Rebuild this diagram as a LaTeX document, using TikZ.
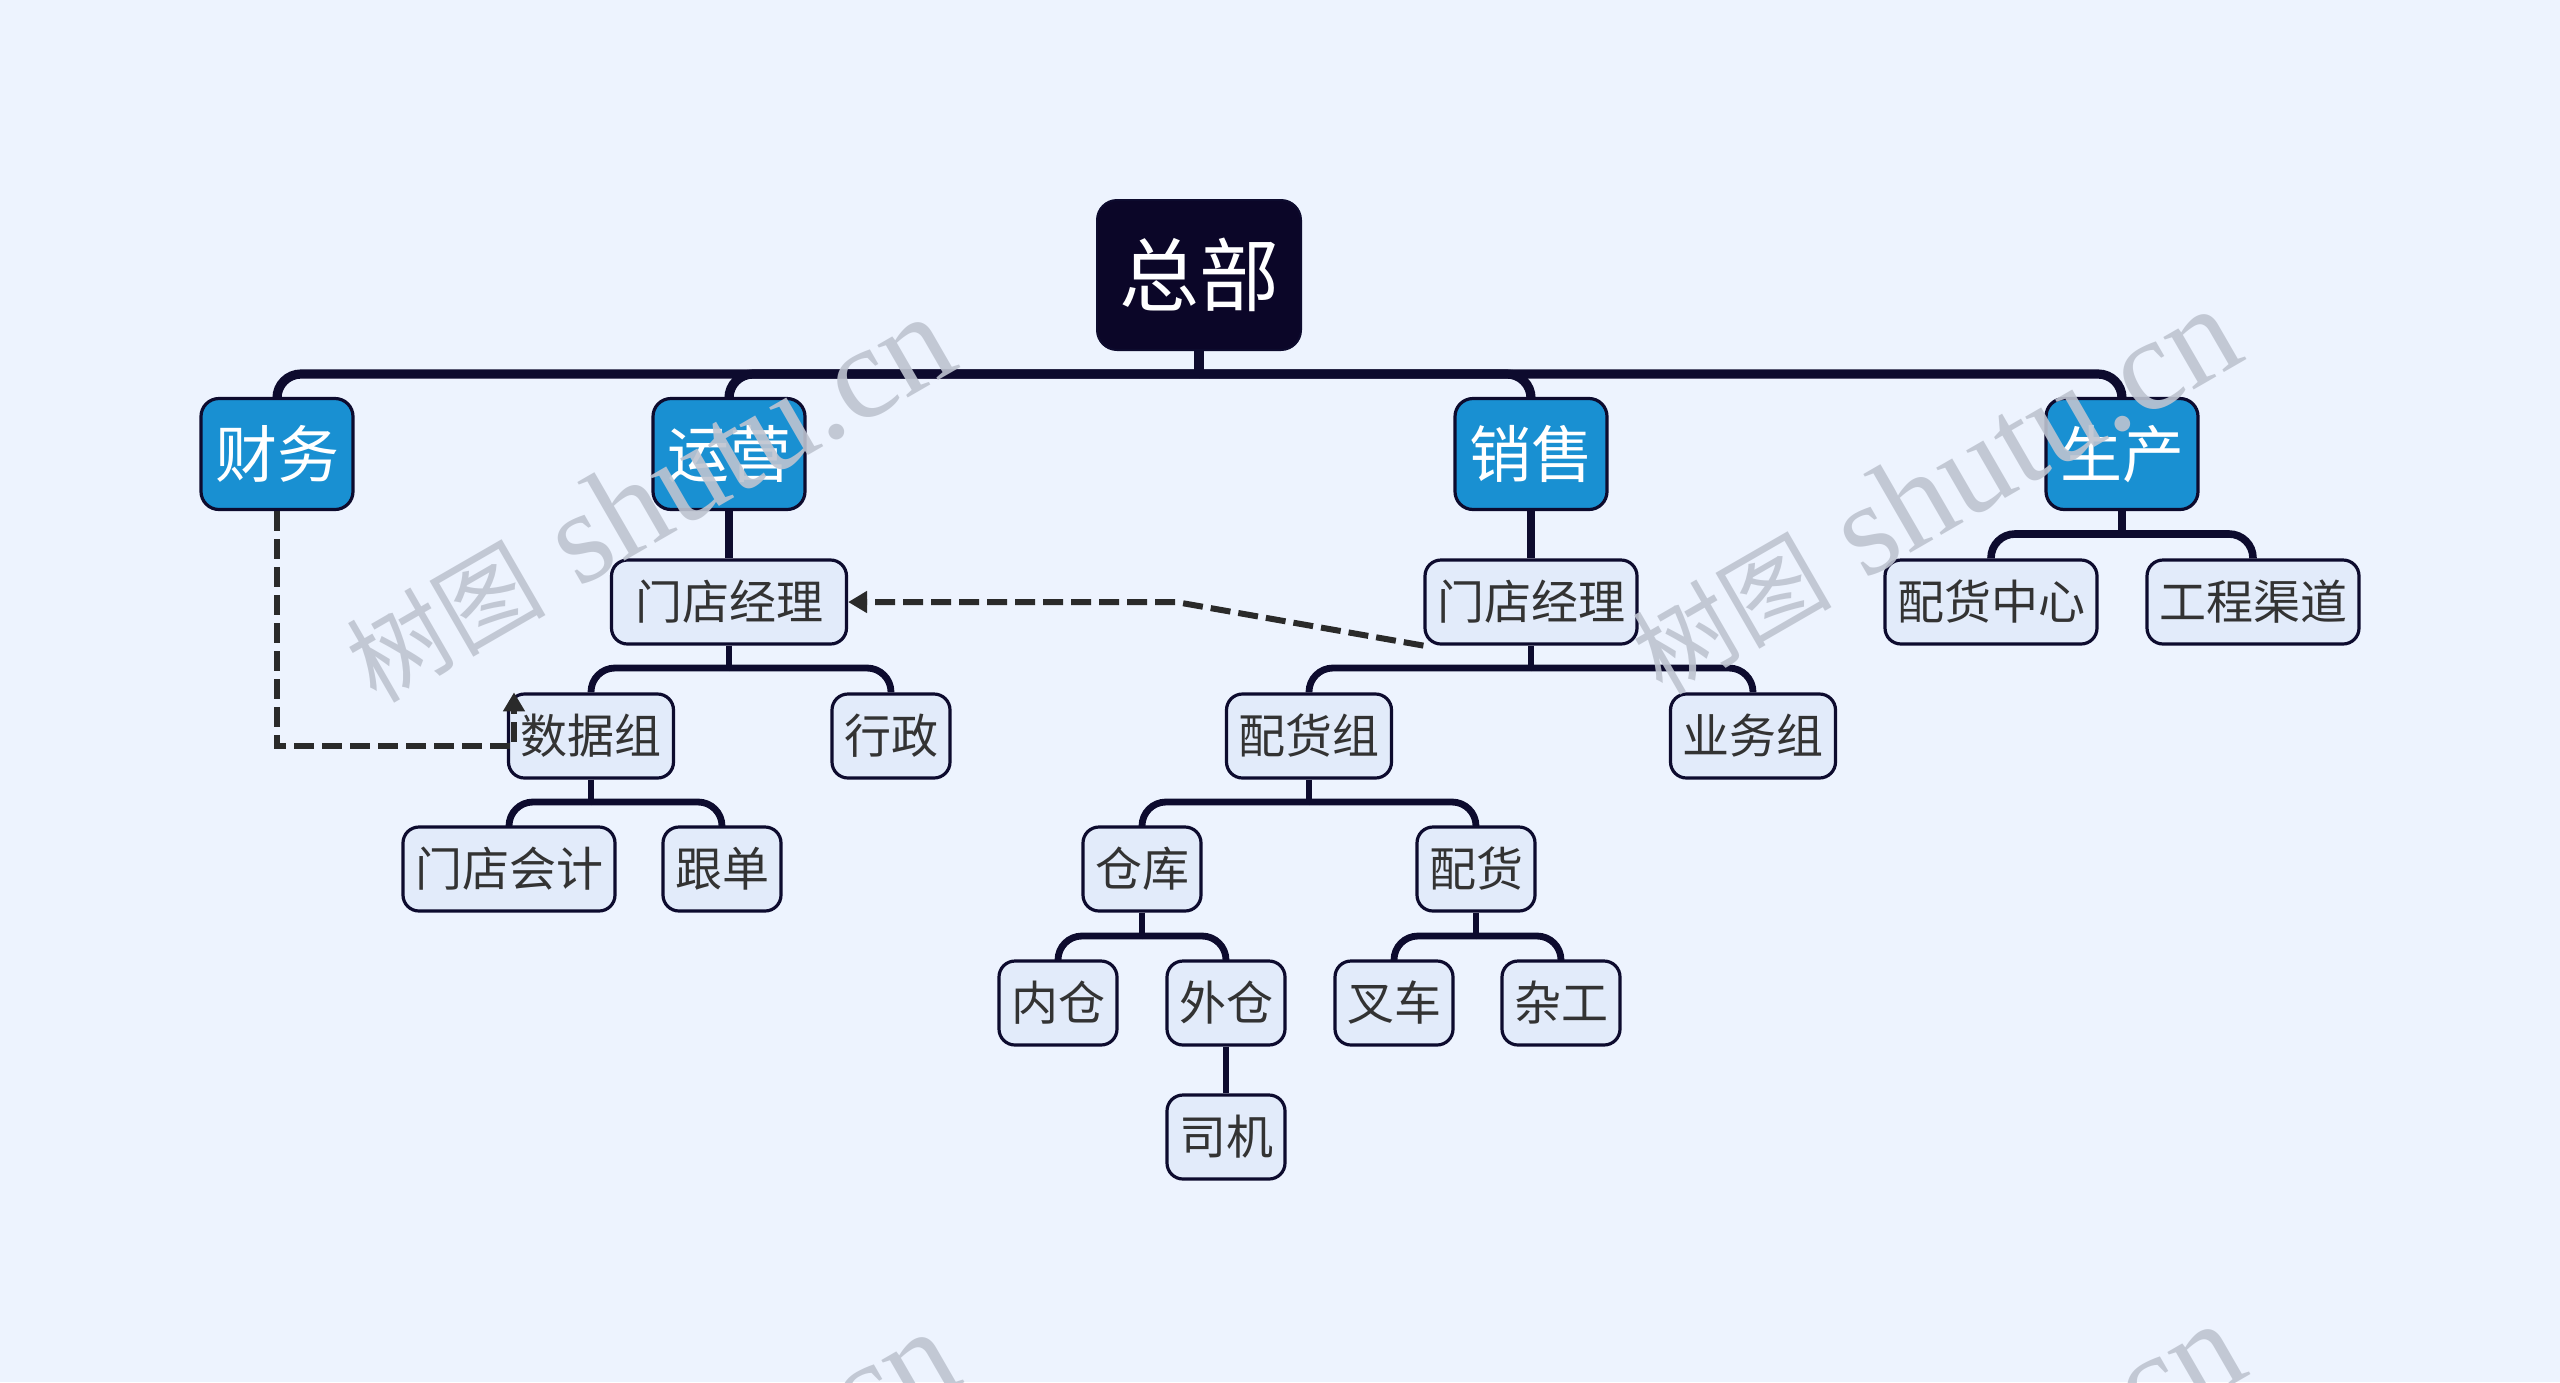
\documentclass[tikz,border=0pt]{standalone}
\usepackage{fontspec}
\newfontfamily\cjk{Noto Sans CJK SC}
\newfontfamily\wmserif{Liberation Serif}
\usetikzlibrary{arrows.meta}
\definecolor{bgc}{HTML}{EDF3FE}
\definecolor{navy}{HTML}{0D0B2E}
\definecolor{rootc}{HTML}{0B0628}
\definecolor{bluec}{HTML}{1990D2}
\definecolor{lightn}{HTML}{E2EBFA}
\definecolor{textc}{HTML}{333333}
\definecolor{dashc}{HTML}{2A2A2A}
\definecolor{wmc}{HTML}{BEC4D0}
\begin{document}
\begin{tikzpicture}[x=0.5pt,y=-0.5pt,
  rootbox/.style={rounded corners=10pt, fill=rootc, draw=navy, line width=1pt, text=white,
    font=\cjk\fontsize{40}{40}\selectfont, minimum width=102pt, minimum height=75pt, inner sep=0pt},
  lone/.style={rounded corners=9pt, fill=bluec, draw=navy, line width=1.6pt, text=white,
    font=\cjk\fontsize{31}{31}\selectfont, minimum width=76pt, minimum height=55.5pt, inner sep=0pt},
  ltwo/.style={rounded corners=8pt, fill=lightn, draw=navy, line width=1.6pt, text=textc,
    font=\cjk\fontsize{23.5}{23.5}\selectfont, minimum height=42pt, inner xsep=6pt, inner ysep=0pt},
  busa/.style={draw=navy, line width=4.6pt},
  busb/.style={draw=navy, line width=3.8pt},
  busc/.style={draw=navy, line width=3.4pt},
  rc/.style={rounded corners=12pt},
  rel/.style={draw=dashc, line width=3pt, dash pattern=on 10pt off 4pt,
    -{Triangle[length=9.5pt,width=10.5pt]}},
  wm/.style={text=wmc, opacity=0.9, font=\wmserif\fontsize{66}{66}\selectfont, inner sep=0pt,
    rotate=30, anchor=base west}
]
\fill[bgc] (0,0) rectangle (2560,1382);
\clip (0,0) rectangle (2560,1382);

% nodes
\node[rootbox] (root) at (1199,275) {总部};
\node[lone] (caiwu) at (277,454) {财务};
\node[lone] (yunying) at (729,454) {运营};
\node[lone] (xiaoshou) at (1531,454) {销售};
\node[lone] (shengchan) at (2122,454) {生产};

\node[ltwo, minimum width=117.5pt] (md1) at (729,602) {门店经理};
\node[ltwo] (md2) at (1531,602) {门店经理};
\node[ltwo] (phzx) at (1991,602) {配货中心};
\node[ltwo] (gcqd) at (2253,602) {工程渠道};

\node[ltwo] (sjz) at (591,736) {数据组};
\node[ltwo] (xz) at (891,736) {行政};
\node[ltwo] (phz) at (1309,736) {配货组};
\node[ltwo] (ywz) at (1753,736) {业务组};

\node[ltwo] (mdkj) at (509,869) {门店会计};
\node[ltwo] (gd) at (722,869) {跟单};
\node[ltwo] (ck) at (1142,869) {仓库};
\node[ltwo] (ph) at (1476,869) {配货};

\node[ltwo] (nc) at (1058,1003) {内仓};
\node[ltwo] (wc) at (1226,1003) {外仓};
\node[ltwo] (cc) at (1394,1003) {叉车};
\node[ltwo] (zg) at (1561,1003) {杂工};

\node[ltwo] (sj) at (1226,1137) {司机};

% bus points
\coordinate (b0) at (1199,374);
\coordinate (b1) at (2122,534);
\coordinate (b2) at (729,668);
\coordinate (b3) at (1531,668);
\coordinate (b4) at (591,802);
\coordinate (b5) at (1309,802);
\coordinate (b6) at (1142,936);
\coordinate (b7) at (1476,936);

% connectors
\draw[busa] (root.south) -- (b0);
\foreach \c in {caiwu,yunying,xiaoshou,shengchan}
  \draw[busa,rc] (b0) -| (\c.north);

\draw[busb] (yunying.south) -- (md1.north);
\draw[busb] (xiaoshou.south) -- (md2.north);
\draw[busb] (shengchan.south) -- (b1);
\draw[busb,rc] (b1) -| (phzx.north);
\draw[busb,rc] (b1) -| (gcqd.north);

\draw[busc] (md1.south) -- (b2);
\draw[busc,rc] (b2) -| (sjz.north);
\draw[busc,rc] (b2) -| (xz.north);
\draw[busc] (md2.south) -- (b3);
\draw[busc,rc] (b3) -| (phz.north);
\draw[busc,rc] (b3) -| (ywz.north);

\draw[busc] (sjz.south) -- (b4);
\draw[busc,rc] (b4) -| (mdkj.north);
\draw[busc,rc] (b4) -| (gd.north);
\draw[busc] (phz.south) -- (b5);
\draw[busc,rc] (b5) -| (ck.north);
\draw[busc,rc] (b5) -| (ph.north);

\draw[busc] (ck.south) -- (b6);
\draw[busc,rc] (b6) -| (nc.north);
\draw[busc,rc] (b6) -| (wc.north);
\draw[busc] (ph.south) -- (b7);
\draw[busc,rc] (b7) -| (cc.north);
\draw[busc,rc] (b7) -| (zg.north);

\draw[busc] (wc.south) -- (sj.north);

% relationship arrows
\coordinate (d1b) at (514,746);
\draw[rel] (caiwu.south) |- (d1b) -- (d1b |- sjz.north);
\coordinate (d2b) at (1176,602);
\draw[rel] (md2.south west) -- (d2b) -- (md1.east);

% watermarks
\node[wm] (wm1) at (376,705) {{\cjk\fontsize{50}{50}\selectfont 树图} shutu.cn};
\node[wm] (wm2) at (1662,697) {{\cjk\fontsize{50}{50}\selectfont 树图} shutu.cn};
\node[wm] (wm3) at (380,1720) {{\cjk\fontsize{50}{50}\selectfont 树图} shutu.cn};
\node[wm] (wm4) at (1666,1712) {{\cjk\fontsize{50}{50}\selectfont 树图} shutu.cn};
\end{tikzpicture}
\end{document}
